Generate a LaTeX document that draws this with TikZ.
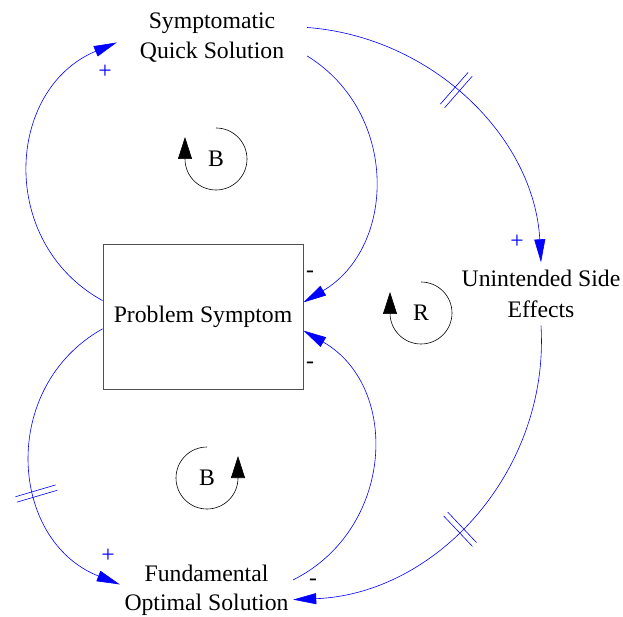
\documentclass[tikz,border=0pt]{standalone}
\usepackage{fontspec}
\setmainfont{Liberation Serif}
\usetikzlibrary{arrows.meta,decorations.markings}
\definecolor{linkblue}{RGB}{0,0,255}
\definecolor{boxgray}{RGB}{80,80,80}
\tikzset{
  lbl/.style={font=\fontsize{23.7}{30.5}\selectfont, inner sep=0pt, align=center},
  link/.style={draw=linkblue, line width=0.6pt, -{Triangle[length=23pt,width=11pt]}},
  delay/.style={postaction={decorate}, decoration={markings, mark=at position #1 with {
      \draw[linkblue, line width=0.6pt, -] (-2.8pt,-21pt) -- (-2.8pt,21pt) (2.8pt,-21pt) -- (2.8pt,21pt);}}},
  loopdir/.style={draw=black, line width=0.6pt, -{Triangle[length=22pt,width=14pt]}},
  pol/.style={lbl, text=linkblue},
  neg/.style={lbl, text=black}
}
\begin{document}
\begin{tikzpicture}[x=1pt,y=1pt]
\useasboundingbox (0,0) rectangle (623,616);

% variables
\node[lbl, minimum width=190pt, minimum height=52pt] (qs) at (212,578.5) {Symptomatic\\Quick Solution};
\node[lbl, draw=boxgray, line width=0.9pt, minimum width=200pt, minimum height=145pt] (ps) at (203,299.5) {Problem Symptom};
\node[lbl, minimum height=63pt] (ue) at (541,322) {Unintended Side\\Effects};
\node[lbl, font=\fontsize{23.7}{28.5}\selectfont, minimum width=173pt, minimum height=50pt] (fo) at (206.5,25.5) {Fundamental\\Optimal Solution};

% causal links
\draw[link] (ps.171.2) to[out=151.2, in=202.6, looseness=1.19] (qs.183.9);
\draw[link] (qs.-11) to[out=-31.7, in=30.7, looseness=1.12] (ps.8.8);
\draw[link, delay=0.6] (ps.187.1) to[out=209.3, in=158.5, looseness=1.19] (fo.176.4);
\draw[link] (fo.7.6) to[out=26.6, in=-30, looseness=1.155] (ps.-8.8);
\draw[link, delay=0.455] (qs.6.3) to[out=-4.3, in=93.1, looseness=0.97] (ue.north);
\draw[link, delay=0.55] (ue.south) to[out=-86.6, in=2.3, looseness=1.0] (fo.-6.3);

% link polarities
\node[pol] (s1) at (105,544) {+};
\node[neg] (s2) at (310,341.7) {-};
\node[pol] (s3) at (108,60) {+};
\node[neg] (s4) at (310,250.7) {-};
\node[pol] (s5) at (517,374) {+};
\node[neg] (s6) at (313,33.7) {-};

% loop identifiers
\node[lbl] (b1) at (216,457) {B};
\draw[loopdir] ([yshift=31pt]b1.center) arc[start angle=90, end angle=-180, radius=31pt] -- ++(0,22);
\node[lbl] (r1) at (421,303) {R};
\draw[loopdir] ([yshift=31pt]r1.center) arc[start angle=90, end angle=-180, radius=31pt] -- ++(0,21);
\node[lbl] (b2) at (207,138) {B};
\draw[loopdir] ([yshift=31pt]b2.center) arc[start angle=90, end angle=360, radius=31pt] -- ++(0,22);
\end{tikzpicture}
\end{document}
